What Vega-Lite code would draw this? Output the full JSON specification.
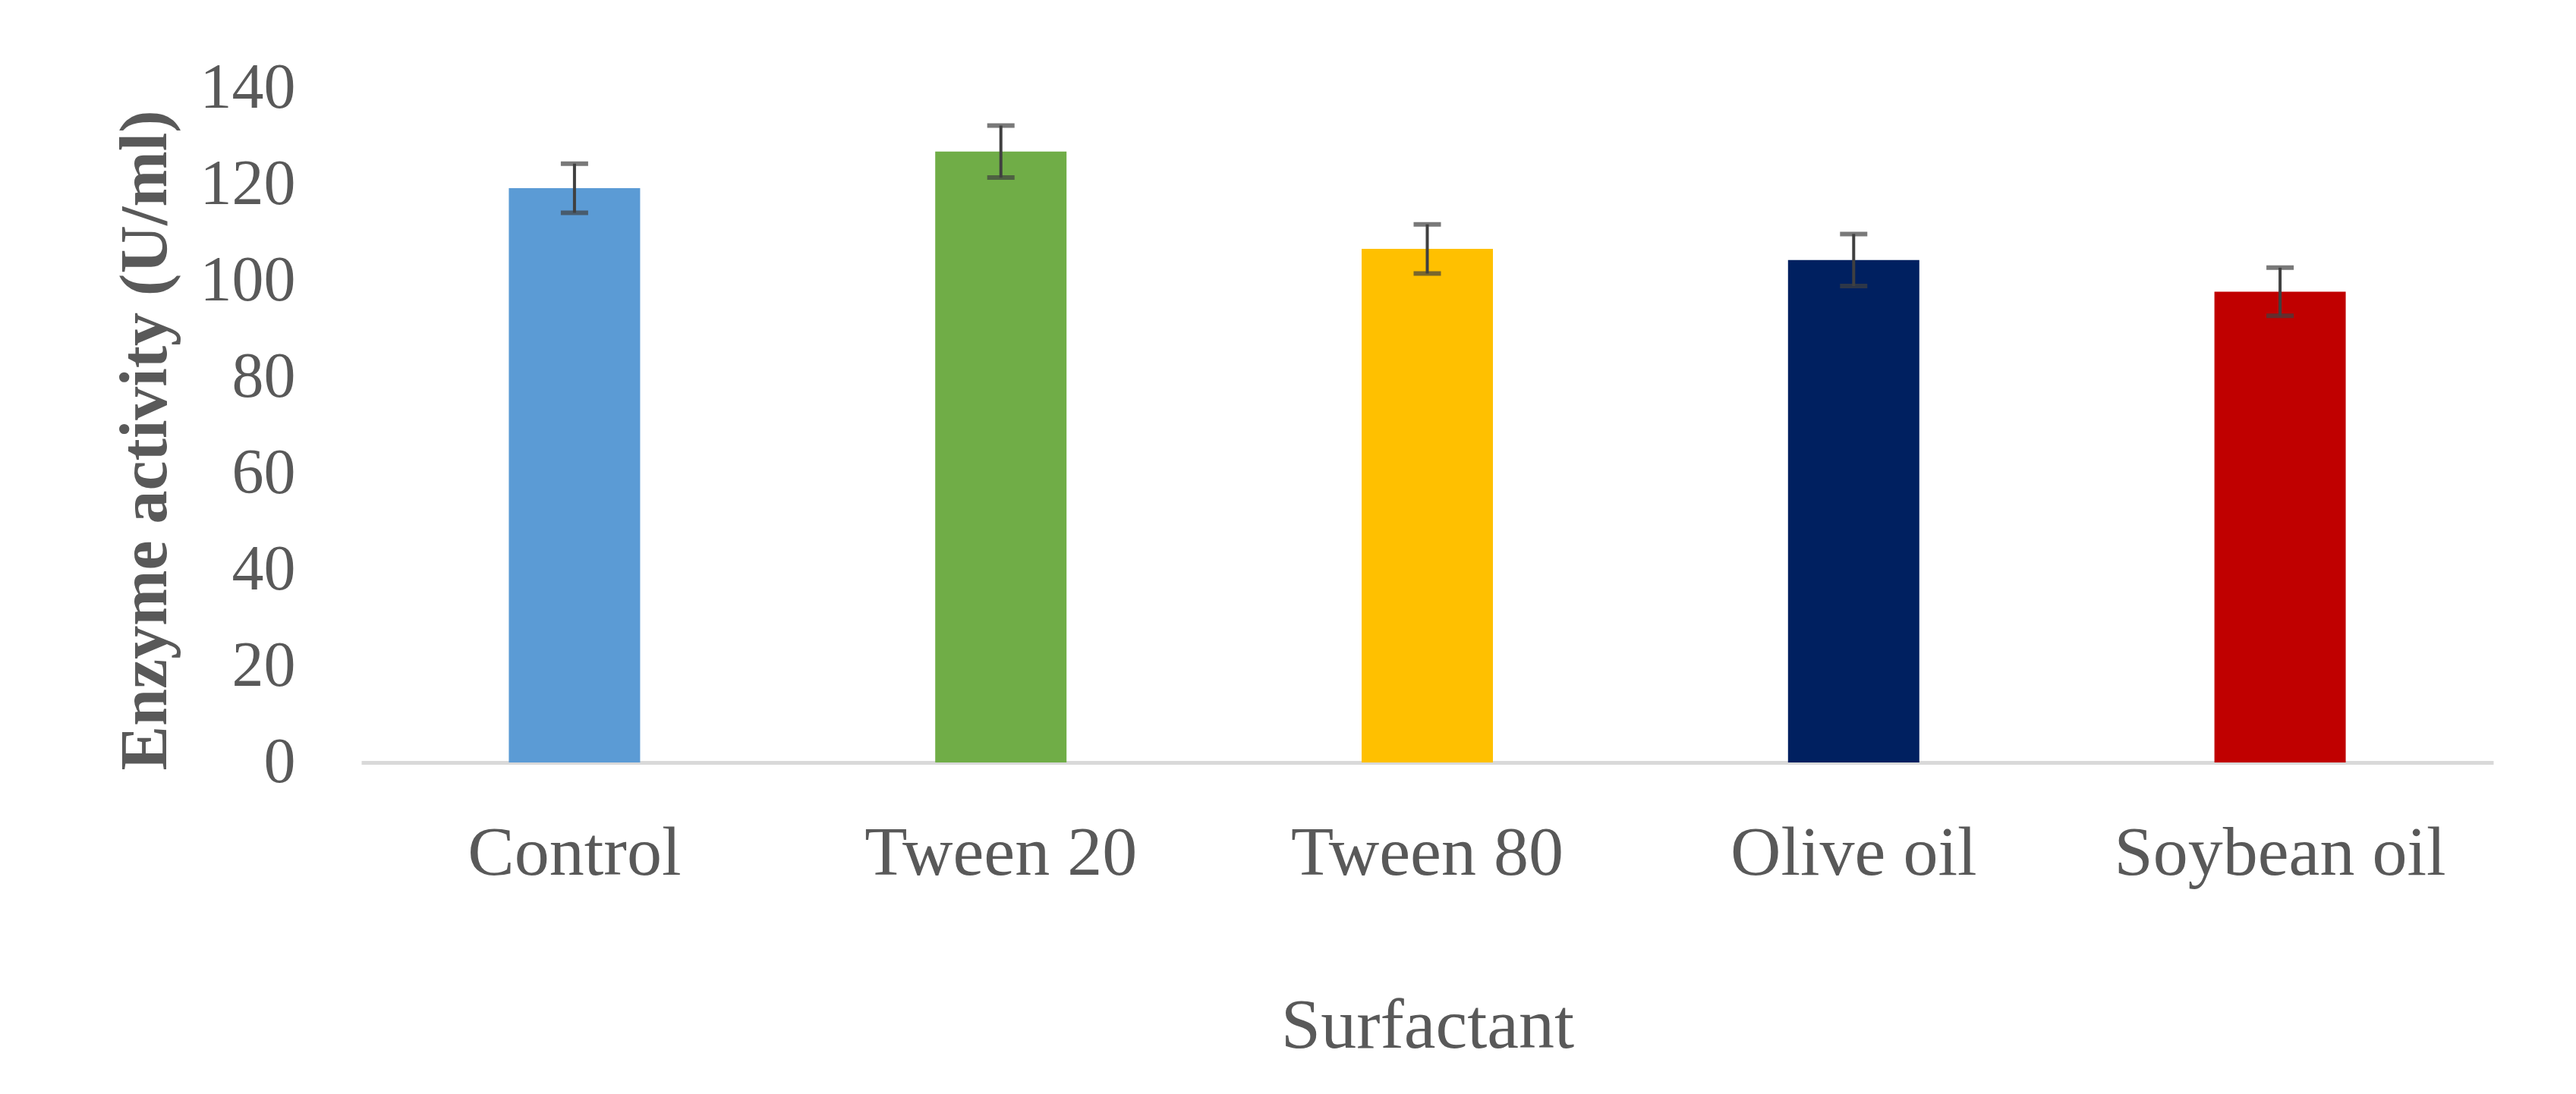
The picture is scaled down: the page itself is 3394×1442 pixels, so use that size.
{
  "$schema": "https://vega.github.io/schema/vega-lite/v6.json",
  "autosize": "none",
  "width": 2809,
  "height": 889,
  "padding": {"left": 476, "top": 116, "right": 109, "bottom": 437},
  "background": "white",
  "config": {"view": {"stroke": null}, "font": "Liberation Serif"},
  "data": {"values": [
    {"surfactant": "Control", "activity": 119.2, "err": 5.1},
    {"surfactant": "Tween 20", "activity": 126.8, "err": 5.4},
    {"surfactant": "Tween 80", "activity": 106.6, "err": 5.1},
    {"surfactant": "Olive oil", "activity": 104.3, "err": 5.4},
    {"surfactant": "Soybean oil", "activity": 97.7, "err": 5.0}
  ]},
  "encoding": {
    "x": {
      "field": "surfactant", "type": "nominal", "sort": null,
      "scale": {"paddingInner": 0, "paddingOuter": 0},
      "axis": {
        "title": "Surfactant", "labelAngle": 0, "ticks": false, "labelLimit": 2000,
        "domainColor": "#D9D9D9", "domainWidth": 5,
        "labelFont": "Liberation Serif", "labelFontSize": 92, "labelColor": "#595959",
        "labelBaseline": "alphabetic", "labelPadding": 147,
        "titleFont": "Liberation Serif", "titleFontSize": 94, "titleFontWeight": "normal", "titleColor": "#595959",
        "titleBaseline": "alphabetic", "titleY": 375
      }
    },
    "y": {
      "field": "activity", "type": "quantitative",
      "scale": {"domain": [0, 140]},
      "axis": {
        "title": "Enzyme activity (U/ml)", "values": [0, 20, 40, 60, 80, 100, 120, 140],
        "domain": false, "ticks": false, "grid": false,
        "labelFont": "Liberation Serif", "labelFontSize": 84, "labelColor": "#595959", "labelPadding": 87,
        "titleFont": "Liberation Serif", "titleFontSize": 88, "titleFontWeight": "bold", "titleColor": "#595959",
        "titleAngle": 270, "titleBaseline": "alphabetic", "titleAlign": "center",
        "titleX": -258, "titleY": 464
      }
    }
  },
  "layer": [
    {
      "mark": {"type": "bar", "size": 173},
      "encoding": {
        "color": {
          "field": "surfactant", "type": "nominal", "legend": null,
          "scale": {
            "domain": ["Control", "Tween 20", "Tween 80", "Olive oil", "Soybean oil"],
            "range": ["#5B9BD5", "#70AD47", "#FFC000", "#002060", "#C00000"]
          }
        }
      }
    },
    {
      "mark": {"type": "errorbar", "color": "#404040", "thickness": 4, "ticks": {"size": 36, "thickness": 6, "color": "#404040"}},
      "encoding": {
        "yError": {"field": "err"}
      }
    }
  ]
}
